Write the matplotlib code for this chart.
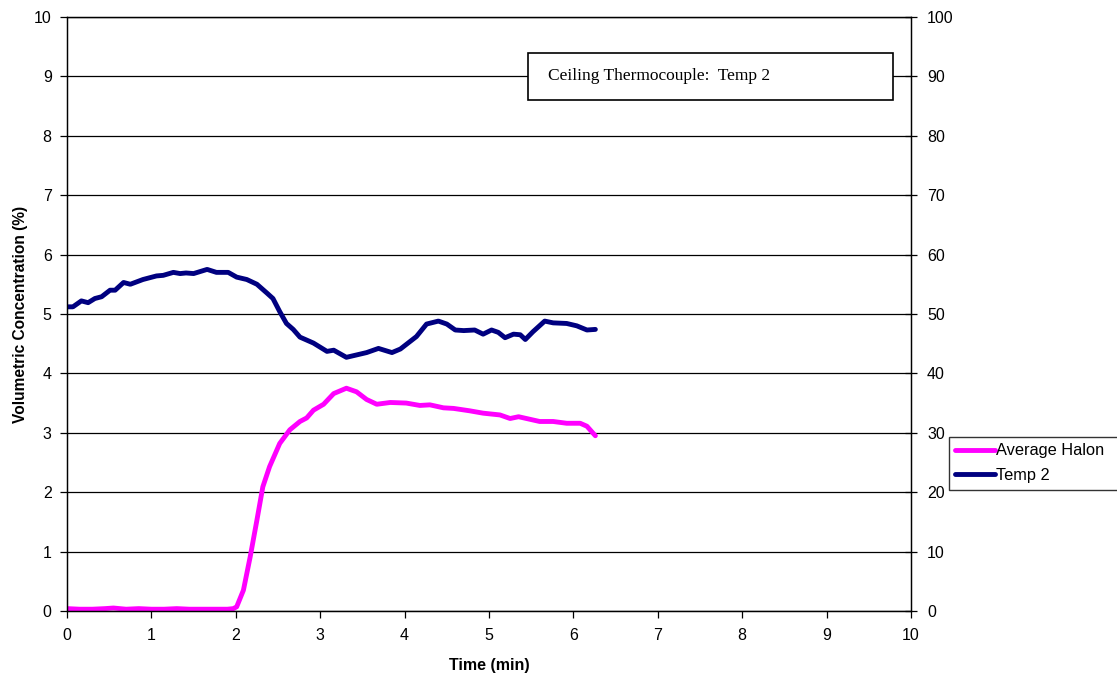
import matplotlib
matplotlib.use("Agg")
import matplotlib.pyplot as plt
from matplotlib.patches import Rectangle

plt.rcParams['font.family'] = ['Liberation Sans', 'DejaVu Sans']

# Average Halon (left axis, %)
halon_t = [0.0, 0.15, 0.3, 0.45, 0.55, 0.7, 0.85, 1.0, 1.15, 1.3, 1.45, 1.6, 1.75, 1.9, 1.97,
           2.01, 2.09, 2.17, 2.25, 2.32, 2.40, 2.52, 2.64, 2.76, 2.84, 2.92, 3.04, 3.16, 3.31,
           3.43, 3.55, 3.67, 3.83, 4.02, 4.18, 4.30, 4.46, 4.58, 4.77, 4.93, 5.13, 5.25, 5.35,
           5.60, 5.76, 5.92, 6.08, 6.16, 6.26]
halon = [0.04, 0.03, 0.03, 0.04, 0.05, 0.03, 0.04, 0.03, 0.03, 0.04, 0.03, 0.03, 0.03, 0.03, 0.04,
         0.07, 0.35, 0.91, 1.53, 2.09, 2.43, 2.82, 3.05, 3.19, 3.25, 3.38, 3.48, 3.66, 3.75,
         3.69, 3.56, 3.48, 3.51, 3.50, 3.46, 3.47, 3.42, 3.41, 3.37, 3.33, 3.30, 3.24, 3.27,
         3.19, 3.19, 3.16, 3.16, 3.11, 2.95]

# Temp 2 (right axis)
temp_t = [0.0, 0.07, 0.17, 0.25, 0.33, 0.41, 0.51, 0.57, 0.67, 0.75, 0.90, 1.06, 1.14, 1.26,
          1.34, 1.41, 1.50, 1.66, 1.77, 1.91, 2.01, 2.13, 2.25, 2.37, 2.44, 2.52, 2.60, 2.68,
          2.76, 2.92, 3.08, 3.16, 3.31, 3.43, 3.55, 3.69, 3.85, 3.95, 4.14, 4.26, 4.40, 4.50,
          4.60, 4.70, 4.83, 4.93, 5.03, 5.11, 5.19, 5.29, 5.37, 5.43, 5.52, 5.66, 5.76, 5.92,
          6.04, 6.16, 6.26]
temp = [51.2, 51.2, 52.2, 51.9, 52.6, 52.9, 54.0, 54.0, 55.3, 55.0, 55.8, 56.4, 56.5, 57.0,
        56.8, 56.9, 56.8, 57.5, 57.0, 57.0, 56.2, 55.8, 55.0, 53.5, 52.6, 50.4, 48.4, 47.4,
        46.1, 45.1, 43.7, 43.9, 42.7, 43.1, 43.5, 44.2, 43.5, 44.1, 46.2, 48.3, 48.8, 48.3,
        47.3, 47.2, 47.3, 46.6, 47.3, 46.9, 46.0, 46.6, 46.5, 45.7, 47.0, 48.8, 48.5, 48.4,
        48.0, 47.3, 47.4]

fig = plt.figure(figsize=(11.17, 6.77), dpi=100)
ax = fig.add_axes([0.060, 0.0975, 0.7556, 0.8775])
ax2 = ax.twinx()

l1, = ax.plot(halon_t, halon, color='#ff00ff', lw=3.5, label='Average Halon',
              solid_joinstyle='round', solid_capstyle='round')
l2, = ax2.plot(temp_t, temp, color='#000080', lw=3.5, label='Temp 2',
               solid_joinstyle='round', solid_capstyle='round')

ax.set_xlim(0, 10)
ax.set_ylim(0, 10)
ax2.set_ylim(0, 100)
ax.set_xticks(range(11))
ax.set_yticks(range(11))
ax2.set_yticks(range(0, 101, 10))
ax.grid(axis='y', color='black', lw=0.9)
ax.set_axisbelow(True)

for a in (ax, ax2):
    for s in a.spines.values():
        s.set_color('black')
        s.set_linewidth(0.9)
ax.tick_params(axis='y', labelsize=11.5, length=5, width=0.9, direction='out', pad=6)
ax.tick_params(axis='x', labelsize=11.5, length=5, width=0.9, direction='out', pad=7)
ax2.tick_params(axis='y', labelsize=11.5, length=9, width=0.9, direction='inout', pad=7)

ax.set_xlabel('Time (min)', fontsize=11.5, fontweight='bold', labelpad=11)
ax.set_ylabel('Volumetric Concentration (%)', fontsize=11.2, fontweight='bold', labelpad=4)

# title box inside the plot
ax.add_patch(Rectangle((0.546, 0.860), 0.433, 0.079, transform=ax.transAxes,
                       facecolor='white', edgecolor='black', lw=1.2, zorder=5))
ax.text(0.570, 0.900, 'Ceiling Thermocouple:  Temp 2', transform=ax.transAxes,
        family=['Liberation Serif'], fontsize=12.5, va='center', ha='left', zorder=6)

# legend runs off the right edge like the original
leg = fig.legend([l1, l2], ['Average Halon', 'Temp 2'], loc='upper left',
                 bbox_to_anchor=(0.842, 0.367, 0.2, 0), mode='expand', fontsize=11.8,
                 frameon=True, fancybox=False, edgecolor='black', handlelength=2.4,
                 handletextpad=0.1, borderpad=0.4, labelspacing=0.6)
leg.get_frame().set_linewidth(1.0)

fig.savefig('out.png', dpi=100)
